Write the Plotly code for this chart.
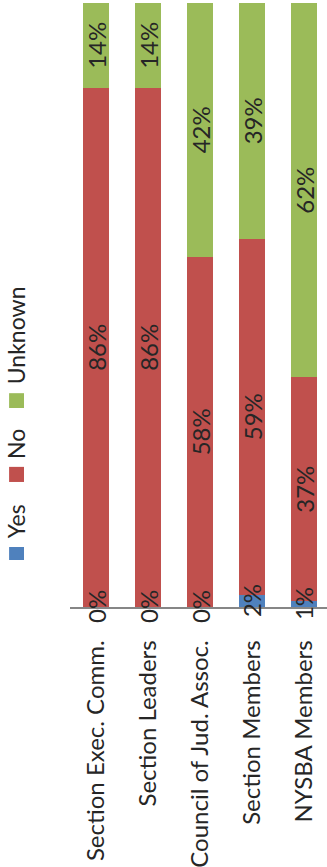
import plotly.graph_objects as go

categories = ["Section Exec. Comm.", "Section Leaders", "Council of Jud. Assoc.", "Section Members", "NYSBA Members"]
yes_vals = [0, 0, 0, 2, 1]
no_vals = [86, 86, 58, 59, 37]
unknown_vals = [14, 14, 42, 39, 62]
series_names = ["Yes", "No", "Unknown"]
colors = ["#4F81BD", "#C0504D", "#9BBB59"]

FONT = "Lato"
TXT = "#262626"
fsize = 24

fig = go.Figure()
for name, vals, col in zip(series_names, [yes_vals, no_vals, unknown_vals], colors):
    fig.add_trace(go.Bar(
        x=categories, y=vals, name=name, marker=dict(color=col, line=dict(width=0)),
        text=[f"{v}%" for v in vals] if name != "Yes" else None,
        textposition="inside" if name != "Yes" else "none",
        textangle=-90, insidetextanchor="middle", constraintext="none",
        textfont=dict(family=FONT, size=fsize, color=TXT),
        showlegend=False, hoverinfo="skip",
    ))

annotations = []
for c, v in zip(categories, yes_vals):
    annotations.append(dict(x=c, y=v / 2, xref="x", yref="y", text=f"{v}%", showarrow=False,
                            textangle=-90, xanchor="center", yanchor="middle",
                            font=dict(family=FONT, size=fsize, color=TXT)))

leg_text_y = [0.142, 0.270, 0.450]
leg_sq = [(0.0778, 0.0993), (0.207, 0.232), (0.3295, 0.354)]
shapes = []
for name, col, ty, (y0, y1) in zip(series_names, colors, leg_text_y, leg_sq):
    annotations.append(dict(x=-0.21, y=ty, xref="paper", yref="paper", text=name, showarrow=False,
                            textangle=-90, xanchor="center", yanchor="middle",
                            font=dict(family=FONT, size=23, color=TXT)))
    shapes.append(dict(type="rect", xref="paper", yref="paper", x0=-0.237, x1=-0.179, y0=y0, y1=y1,
                       fillcolor=col, line=dict(width=0)))

fig.update_layout(
    width=327, height=867,
    margin=dict(l=70, r=0, t=3, b=260),
    barmode="stack", bargap=0.5,
    plot_bgcolor="white", paper_bgcolor="white",
    annotations=annotations, shapes=shapes,
    xaxis=dict(range=[-0.5, 4.44], tickangle=-90, showline=True, linecolor="#868686", linewidth=1.5,
               ticks="", ticklabelstandoff=22, automargin=False,
               tickfont=dict(family=FONT, size=fsize, color=TXT), showgrid=False),
    yaxis=dict(range=[0, 100], visible=False, showgrid=False, automargin=False),
    font=dict(family=FONT),
)

fig.write_html("out.html", config={"displayModeBar": False},
               post_script="document.body.style.margin='0';")
